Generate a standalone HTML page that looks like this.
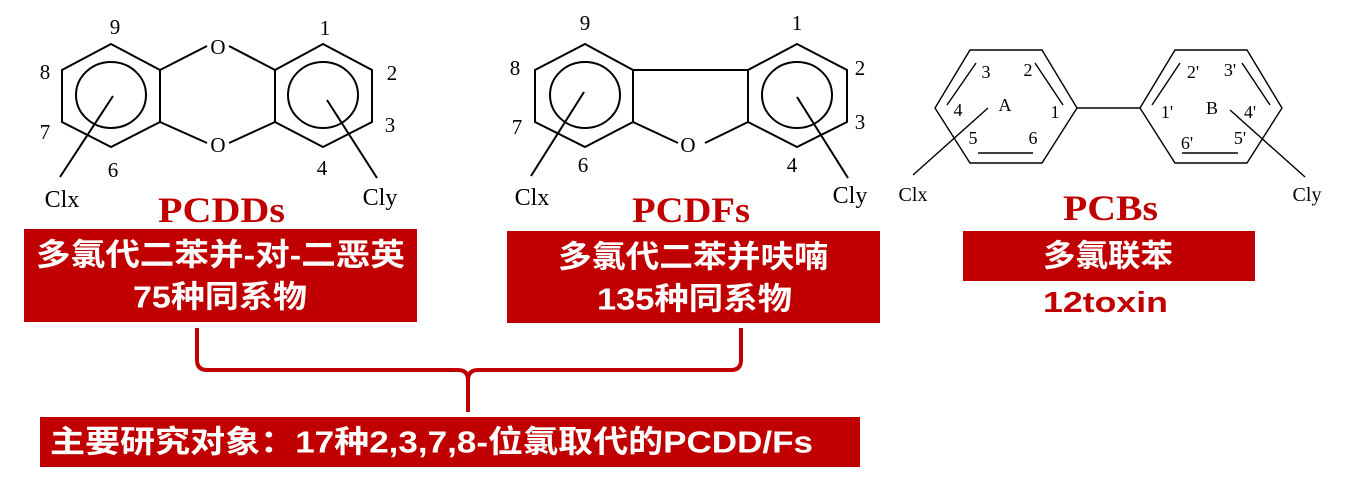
<!DOCTYPE html>
<html><head><meta charset="utf-8"><style>
html,body{margin:0;padding:0;background:#fff;}
svg{display:block;}
.n{font-family:"Liberation Serif",serif;font-size:21px;fill:#000;text-anchor:middle;dominant-baseline:central;}
.s{font-family:"Liberation Serif",serif;font-size:18px;fill:#000;text-anchor:middle;dominant-baseline:central;}
.t{font-family:"Liberation Serif",serif;font-size:36px;font-weight:bold;fill:#c00000;text-anchor:start;dominant-baseline:central;}
.w{font-family:"Liberation Sans","Noto Sans CJK SC",sans-serif;font-size:31px;font-weight:bold;fill:#fff;text-anchor:start;dominant-baseline:central;}
</style></head><body>
<svg width="1348" height="484" viewBox="0 0 1348 484" xmlns="http://www.w3.org/2000/svg">
<g fill="none" stroke="#000" stroke-width="2">
<polygon points="111,44 160,70 160,122 111,147 62,122 62,70"/>
<ellipse cx="111" cy="95" rx="35" ry="33"/>
<line x1="113" y1="96" x2="60" y2="177"/>
<polygon points="323,44 372,70 372,122 323,147 275,122 275,70"/>
<ellipse cx="323" cy="95" rx="35" ry="33"/>
<line x1="327" y1="100" x2="377" y2="178"/>
<line x1="160" y1="70" x2="207" y2="46"/><line x1="229" y1="46" x2="275" y2="70"/>
<line x1="160" y1="122" x2="207" y2="143"/><line x1="229" y1="143" x2="275" y2="122"/>
<polygon points="585,44 633,70 633,122 585,147 535,122 535,70"/>
<ellipse cx="585" cy="95" rx="35" ry="33"/>
<line x1="584" y1="92" x2="531" y2="176"/>
<polygon points="797,44 847,70 847,122 797,147 748,122 748,70"/>
<ellipse cx="797" cy="95" rx="35" ry="33"/>
<line x1="797" y1="97" x2="848" y2="178"/>
<line x1="633" y1="70" x2="748" y2="70"/>
<line x1="633" y1="122" x2="678" y2="143"/><line x1="705" y1="143" x2="748" y2="122"/>
</g>
<g fill="none" stroke="#000" stroke-width="1.4">
<polygon points="970,50 1042,50 1077,108 1042,163 970,163 935,108"/>
<line x1="976" y1="63" x2="947" y2="105"/><line x1="1035" y1="63" x2="1063" y2="105"/><line x1="978" y1="153" x2="1033" y2="153"/>
<line x1="1077" y1="108" x2="1140" y2="108"/>
<polygon points="1175,50 1247,50 1282,108 1247,163 1175,163 1140,108"/>
<line x1="1180" y1="63" x2="1152" y2="105"/><line x1="1242" y1="63" x2="1270" y2="105"/><line x1="1182" y1="153" x2="1238" y2="153"/>
<line x1="988" y1="108" x2="913" y2="175"/>
<line x1="1230" y1="110" x2="1305" y2="177"/>
</g>
<g class="n">
<text x="115" y="27">9</text><text x="45" y="72">8</text><text x="45" y="132">7</text><text x="113" y="170">6</text>
<text x="325" y="28">1</text><text x="392" y="73">2</text><text x="390" y="125">3</text><text x="322" y="168">4</text>
<text x="218" y="47">O</text><text x="218" y="145">O</text>
<text x="62" y="200" style="font-size:24px">Clx</text><text x="380" y="198" style="font-size:24px">Cly</text>
<text x="585" y="23">9</text><text x="515" y="68">8</text><text x="517" y="127">7</text><text x="583" y="165">6</text>
<text x="797" y="23">1</text><text x="860" y="68">2</text><text x="860" y="122">3</text><text x="792" y="165">4</text>
<text x="688" y="145">O</text>
<text x="532" y="198" style="font-size:24px">Clx</text><text x="850" y="196" style="font-size:24px">Cly</text>
</g>
<g class="s">
<text x="986" y="72">3</text><text x="1028" y="70">2</text><text x="958" y="110">4</text><text x="1005" y="105">A</text><text x="1055" y="112">1</text>
<text x="973" y="138">5</text><text x="1033" y="138">6</text>
<text x="1193" y="72">2'</text><text x="1230" y="70">3'</text><text x="1167" y="112">1'</text><text x="1212" y="108">B</text><text x="1250" y="112">4'</text>
<text x="1187" y="143">6'</text><text x="1240" y="138">5'</text>
<text x="913" y="195" style="font-size:20px">Clx</text><text x="1307" y="195" style="font-size:20px">Cly</text>
</g>
<text class="t" x="158" y="210" textLength="127" lengthAdjust="spacingAndGlyphs">PCDDs</text>
<text class="t" x="632" y="210" textLength="118" lengthAdjust="spacingAndGlyphs">PCDFs</text>
<text class="t" x="1063" y="208" textLength="95" lengthAdjust="spacingAndGlyphs">PCBs</text>
<rect x="24" y="229" width="393" height="93" fill="#c00000"/>
<text class="w" x="36" y="255" textLength="369" lengthAdjust="spacingAndGlyphs">多氯代二苯并-对-二恶英</text>
<text class="w" x="133" y="297" textLength="174" lengthAdjust="spacingAndGlyphs">75种同系物</text>
<rect x="507" y="231" width="373" height="92" fill="#c00000"/>
<text class="w" x="558" y="257" textLength="270" lengthAdjust="spacingAndGlyphs">多氯代二苯并呋喃</text>
<text class="w" x="597" y="299" textLength="195" lengthAdjust="spacingAndGlyphs">135种同系物</text>
<rect x="963" y="231" width="292" height="50" fill="#c00000"/>
<text class="w" x="1043" y="256" textLength="130" lengthAdjust="spacingAndGlyphs">多氯联苯</text>
<text x="1043" y="303" textLength="125" lengthAdjust="spacingAndGlyphs" style="font-family:'Liberation Sans',sans-serif;font-size:29px;font-weight:bold;fill:#c00000;dominant-baseline:central">12toxin</text>
<path d="M197,328 V360 Q197,370 207,370 H458 Q468,370 468,380 V412 M468,380 Q468,370 478,370 H731 Q741,370 741,360 V328" fill="none" stroke="#c00000" stroke-width="4"/>
<rect x="40" y="417" width="820" height="50" fill="#c00000"/>
<text class="w" x="50" y="442" textLength="763" lengthAdjust="spacingAndGlyphs">主要研究对象：17种2,3,7,8-位氯取代的PCDD/Fs</text>
</svg>
</body></html>
